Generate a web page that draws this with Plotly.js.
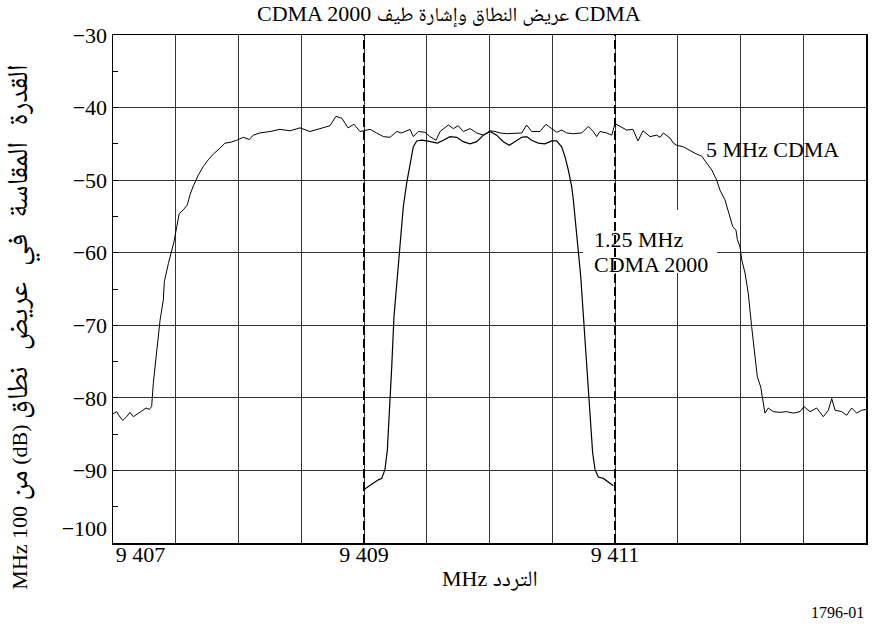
<!DOCTYPE html>
<html>
<head>
<meta charset="utf-8">
<script src="https://cdn.plot.ly/plotly-3.0.1.min.js"></script>
<style>
html,body{margin:0;padding:0;background:#fff;}
#chart{width:893px;height:630px;}
</style>
</head>
<body>
<div id="chart"></div>
<script>
// ---- data ----
const freq5MHz = [9407.000,9407.029,9407.050,9407.077,9407.109,9407.135,9407.162,9407.202,9407.241,9407.263,9407.289,9407.308,9407.321,9407.348,9407.375,9407.401,9407.409,9407.441,9407.460,9407.486,9407.508,9407.528,9407.560,9407.592,9407.614,9407.640,9407.680,9407.720,9407.759,9407.799,9407.853,9407.892,9407.932,9407.986,9408.038,9408.086,9408.118,9408.171,9408.251,9408.331,9408.410,9408.490,9408.570,9408.649,9408.729,9408.777,9408.825,9408.873,9408.920,9408.968,9409.048,9409.101,9409.154,9409.207,9409.261,9409.300,9409.367,9409.393,9409.433,9409.486,9409.526,9409.574,9409.606,9409.672,9409.712,9409.751,9409.791,9409.845,9409.898,9409.951,9410.004,9410.044,9410.084,9410.137,9410.203,9410.257,9410.296,9410.336,9410.402,9410.450,9410.496,9410.535,9410.575,9410.615,9410.668,9410.735,9410.787,9410.827,9410.854,9410.880,9410.934,9410.974,9411.000,9411.040,9411.093,9411.143,9411.183,9411.223,9411.279,9411.332,9411.359,9411.385,9411.412,9411.438,9411.465,9411.492,9411.544,9411.584,9411.637,9411.691,9411.731,9411.771,9411.810,9411.837,9411.876,9411.911,9411.938,9411.964,9411.975,9411.996,9412.010,9412.036,9412.062,9412.089,9412.116,9412.134,9412.161,9412.177,9412.195,9412.222,9412.261,9412.315,9412.368,9412.421,9412.474,9412.506,9412.554,9412.607,9412.660,9412.700,9412.727,9412.753,9412.806,9412.846,9412.886,9412.926,9412.966,9413.000];
const power5MHz = [-82.2,-81.9,-82.5,-83.1,-82.6,-82.0,-82.6,-82.1,-81.6,-81.4,-81.6,-81.2,-78.0,-73.4,-69.3,-66.5,-64.0,-61.5,-60.1,-58.5,-56.4,-54.6,-54.1,-53.4,-52.0,-50.8,-49.3,-48.1,-47.2,-46.4,-45.6,-44.9,-44.8,-44.5,-44.1,-44.4,-43.8,-43.5,-43.3,-43.0,-43.2,-42.8,-43.3,-42.9,-42.5,-41.2,-41.5,-42.8,-42.3,-43.3,-43.0,-43.5,-44.0,-44.1,-43.3,-43.5,-43.0,-44.0,-43.3,-43.4,-44.0,-44.5,-43.3,-42.4,-42.9,-42.5,-43.3,-42.9,-43.5,-43.8,-43.2,-43.3,-43.5,-43.6,-43.5,-43.5,-42.4,-43.3,-43.3,-42.3,-42.9,-43.4,-43.1,-43.5,-43.6,-43.5,-42.6,-43.3,-44.0,-43.3,-43.5,-43.8,-42.2,-42.6,-43.1,-43.0,-44.6,-43.2,-44.0,-43.8,-44.1,-43.5,-43.8,-44.2,-44.9,-45.2,-45.4,-45.8,-46.3,-46.7,-47.7,-48.6,-50.0,-51.4,-52.7,-54.6,-56.4,-56.9,-58.2,-59.2,-61.0,-62.8,-65.6,-70.2,-74.8,-77.1,-78.5,-80.3,-82.1,-81.4,-81.9,-82.0,-81.9,-82.1,-81.9,-81.2,-81.9,-81.4,-82.6,-81.7,-80.1,-81.7,-81.9,-82.4,-81.4,-82.1,-81.7,-81.6];

const freq125MHz = [9408.994,9409.034,9409.074,9409.114,9409.141,9409.167,9409.186,9409.202,9409.221,9409.239,9409.261,9409.281,9409.300,9409.313,9409.340,9409.367,9409.393,9409.420,9409.460,9409.500,9409.539,9409.584,9409.632,9409.685,9409.739,9409.791,9409.845,9409.898,9409.951,9410.004,9410.057,9410.110,9410.158,9410.203,9410.257,9410.296,9410.336,9410.389,9410.442,9410.496,9410.535,9410.575,9410.602,9410.628,9410.655,9410.668,9410.689,9410.708,9410.727,9410.743,9410.761,9410.779,9410.801,9410.822,9410.841,9410.867,9410.907,9410.947,9410.987];
const power125MHz = [-92.7,-92.2,-91.8,-91.3,-91.1,-89.9,-87.2,-82.6,-75.7,-68.8,-64.2,-60.5,-56.4,-53.7,-50.4,-47.7,-45.4,-44.6,-44.5,-44.6,-44.7,-44.9,-44.5,-44.0,-44.1,-44.7,-45.0,-44.7,-43.8,-43.3,-43.8,-44.7,-45.2,-44.7,-44.1,-44.0,-44.5,-44.9,-45.0,-44.6,-44.6,-45.4,-46.8,-48.6,-50.9,-52.7,-56.4,-59.6,-63.3,-67.4,-72.0,-77.1,-82.6,-87.6,-89.9,-90.9,-91.1,-91.6,-92.1];

const channelEdges = [9409, 9411];
const xTickVals = [9407, 9409, 9411, 9413];
const xTickText = ["9 407", "9 409", "9 411", "9 413"];
const yTickVals = [-30, -40, -50, -60, -70, -80, -90, -100];
const yTickText = ["\u221230", "\u221240", "\u221250", "\u221260", "\u221270", "\u221280", "\u221290", "\u2212100"];

// text pieces (in logical order)
const titleLatinA = "CDMA 2000";
const titleArabic = "عريض النطاق وإشارة طيف";
const titleLatinB = "CDMA";
const xTitle = "MHz التردد";
const yTitleLatinA = "MHz 100";
const yTitleArabicA = "من";
const yTitleLatinB = "(dB)";
const yTitleArabicB = "القدرة المقاسة في عريض نطاق";
const label5 = "5 MHz CDMA";
const label125a = "1.25 MHz";
const label125b = "CDMA 2000";
const figNumber = "1796-01";

// ---- layout helpers ----
const FONT = "'Liberation Serif', 'Times New Roman', 'Noto Naskh Arabic', 'Noto Sans Arabic', 'DejaVu Sans', serif";
const NB = "\u00A0";
const sized = (s, px, ws) => "<span style='font-size:" + px + "px" + (ws ? ";word-spacing:" + ws + "px" : "") + "'>" + s + "</span>";
const chartTitle = titleLatinA + " " + sized(titleArabic, 20) + " " + titleLatinB;
const yTitle = yTitleLatinA + " " + sized(yTitleArabicA, 29) + " " + yTitleLatinB + " " + sized(yTitleArabicB, 29, 9);

const xTickTextPadded = xTickText.map((t, i) =>
  i === 0 ? NB.repeat(10) + t : (i === xTickText.length - 1 ? t + NB.repeat(10) : t));
const yTickTextPadded = yTickText.map((t, i) =>
  i === yTickText.length - 1 ? t + "<br>" + NB : t);

const traces = [
  {x: freq5MHz, y: power5MHz, type: 'scatter', mode: 'lines',
   line: {color: '#000', width: 1}, hoverinfo: 'skip', showlegend: false},
  {x: freq125MHz, y: power125MHz, type: 'scatter', mode: 'lines',
   line: {color: '#000', width: 1.2}, hoverinfo: 'skip', showlegend: false}
];

const shapes = [
  {type: 'rect', xref: 'x', yref: 'y', x0: 9410.745, x1: 9411.813, y0: -54.1, y1: -62.8,
   fillcolor: '#fff', line: {width: 0}, layer: 'between'}
].concat(channelEdges.map(f => ({
  type: 'line', xref: 'x', yref: 'paper', x0: f, x1: f, y0: 0, y1: 1,
  line: {color: '#000', width: 2, dash: '9px,4px'}, layer: 'above'
})));

const txt = (size) => ({family: FONT, size: size, color: '#000'});

const layout = {
  width: 893, height: 630,
  margin: {l: 113, r: 27, t: 35, b: 87},
  paper_bgcolor: '#fff', plot_bgcolor: '#fff',
  font: txt(22),
  xaxis: {
    range: [9407, 9413], tickmode: 'array', tickvals: xTickVals, ticktext: xTickTextPadded,
    showgrid: false, zeroline: false, showline: true, mirror: true, linecolor: '#000', linewidth: 1.5,
    ticks: '', tickfont: txt(22), ticklabelstandoff: -9,
    minor: {tickmode: 'linear', tick0: 9407, dtick: 0.5, showgrid: true, gridcolor: '#333', gridwidth: 1, ticks: ''}
  },
  yaxis: {
    range: [-100, -30], tickmode: 'array', tickvals: yTickVals, ticktext: yTickTextPadded,
    showgrid: true, gridcolor: '#333', gridwidth: 1, zeroline: false,
    showline: true, mirror: true, linecolor: '#000', linewidth: 1.5,
    ticks: 'inside', ticklen: 5, tickcolor: '#000', tickfont: txt(22),
    minor: {tickmode: 'linear', tick0: -35, dtick: 10, ticks: 'inside', ticklen: 5, tickcolor: '#000', showgrid: false}
  },
  shapes: shapes,
  annotations: [
    {text: chartTitle, xref: 'paper', yref: 'paper', x: 0.446, y: 1.04, xanchor: 'center', yanchor: 'middle',
     showarrow: false, font: txt(22)},
    {text: xTitle, xref: 'paper', yref: 'paper', x: 0.5006, y: -0.069, xanchor: 'center', yanchor: 'middle',
     showarrow: false, font: txt(22)},
    {text: yTitle, xref: 'paper', yref: 'paper', x: -0.1228, y: 0.425, xanchor: 'center', yanchor: 'middle',
     textangle: -90, showarrow: false, font: txt(22)},
    {text: figNumber, xref: 'paper', yref: 'paper', x: 1, y: -0.136, xanchor: 'right', yanchor: 'middle',
     showarrow: false, font: txt(16)},
    {text: label5, xref: 'x', yref: 'y', x: 9411.709, y: -45.8, xanchor: 'left', yanchor: 'middle',
     showarrow: false, font: txt(22)},
    {text: label125a, xref: 'x', yref: 'y', x: 9410.817, y: -58.2, xanchor: 'left', yanchor: 'middle',
     showarrow: false, font: txt(22)},
    {text: label125b, xref: 'x', yref: 'y', x: 9410.817, y: -61.6, xanchor: 'left', yanchor: 'middle',
     showarrow: false, font: txt(22)}
  ]
};

Plotly.newPlot('chart', traces, layout, {staticPlot: true, displayModeBar: false});
</script>
</body>
</html>
